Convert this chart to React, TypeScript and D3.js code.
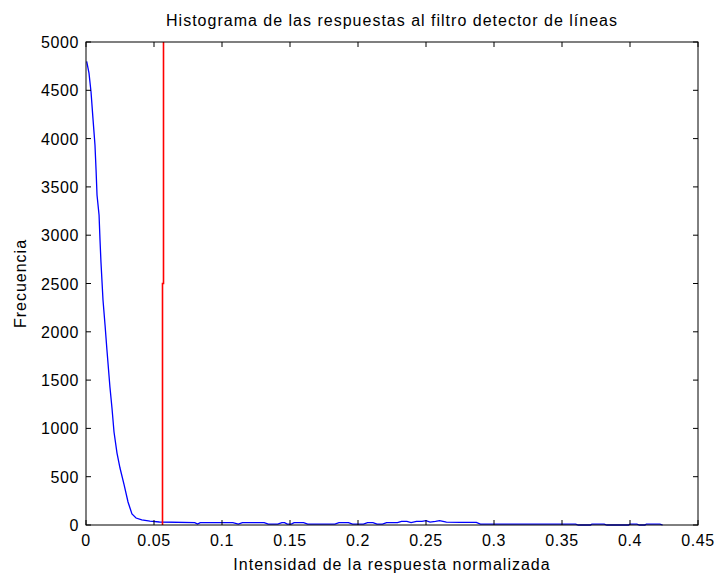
import React from "react";
import * as d3 from "d3";

// intensidad normalizada (eje x) y frecuencia del histograma (eje y)
const intensity = [
  0.0005, 0.0022, 0.0037, 0.0051, 0.0066, 0.0074, 0.0081, 0.0096, 0.0103, 0.011,
  0.0125, 0.014, 0.0154, 0.0176, 0.0191, 0.0206, 0.0228, 0.025, 0.0279, 0.0309,
  0.0338, 0.0368, 0.041, 0.047, 0.054,
  0.080, 0.082, 0.084, 0.108, 0.112, 0.115, 0.131, 0.134, 0.141, 0.144,
  0.146, 0.148, 0.151, 0.153, 0.160, 0.163, 0.183, 0.186, 0.193, 0.196,
  0.204, 0.207, 0.211, 0.214, 0.218, 0.221, 0.229, 0.232, 0.236, 0.239,
  0.243, 0.247, 0.250, 0.253, 0.257, 0.260, 0.265, 0.275, 0.287, 0.290,
  0.360, 0.362, 0.371, 0.372, 0.381, 0.383, 0.399, 0.400, 0.405, 0.407,
  0.411, 0.412, 0.422, 0.424,
];
const frequency = [
  4800, 4678, 4482, 4212, 3933, 3674, 3416, 3209, 2950, 2722,
  2329, 2070, 1811, 1428, 1211, 963, 745, 590, 424, 238,
  114, 72, 52, 41, 31,
  25, 10, 25, 25, 10, 25, 25, 10, 10, 25,
  25, 10, 10, 25, 25, 10, 10, 25, 25, 10,
  10, 25, 25, 10, 10, 25, 25, 38, 38, 25,
  38, 38, 45, 30, 38, 45, 30, 28, 28, 10,
  10, 0, 0, 10, 10, 0, 0, 10, 10, 0,
  0, 10, 10, 0,
];
// umbral elegido (línea roja, dibujada en dos tramos)
const thresholdX = [0.0562, 0.0562, 0.0569, 0.0569];
const thresholdY = [0, 2500, 2500, 5000];

const xTicks = [0, 0.05, 0.1, 0.15, 0.2, 0.25, 0.3, 0.35, 0.4, 0.45];
const yTicks = [0, 500, 1000, 1500, 2000, 2500, 3000, 3500, 4000, 4500, 5000];

const W = 716, H = 576;
const m = { left: 86, right: 18, top: 42, bottom: 51 };
const font = "'Liberation Sans', Arial, sans-serif";
const fs = 16;

export default function App() {
  const x = d3.scaleLinear().domain([0, 0.45]).range([m.left, W - m.right]);
  const y = d3.scaleLinear().domain([0, 5000]).range([H - m.bottom, m.top]);
  const line = d3.line<number>()
    .x((_, i) => x(intensity[i]))
    .y((d) => y(d));
  // la línea roja se ajusta al centro del píxel para que salga nítida
  const redLine = d3.line<number>()
    .x((_, i) => Math.floor(x(thresholdX[i])) + 0.5)
    .y((d) => y(d));
  const x0 = x.range()[0], x1 = x.range()[1];
  const y0 = y.range()[0], y1 = y.range()[1];
  const tl = 5;
  const fmt = (v: number) => (v === 0 ? "0" : String(v));

  return (
    <div style={{ position: "fixed", left: 0, top: 0 }}>
      <svg width={W} height={H} style={{ display: "block", background: "#fff" }}>
        <path d={line(frequency) || ""} fill="none" stroke="#0000ff" strokeWidth={1.3} />
        <path d={redLine(thresholdY) || ""} fill="none" stroke="#ff0000" strokeWidth={1.6} />

        {/* marco y marcas */}
        <rect x={x0} y={y1} width={x1 - x0} height={y0 - y1} fill="none" stroke="#000" strokeWidth={1} />
        {xTicks.map((t) => (
          <g key={"x" + t}>
            <line x1={x(t)} x2={x(t)} y1={y0} y2={y0 - tl} stroke="#000" />
            <line x1={x(t)} x2={x(t)} y1={y1} y2={y1 + tl} stroke="#000" />
            <text x={x(t)} y={y0 + 21} textAnchor="middle" fontFamily={font} fontSize={fs} letterSpacing={0.6}>{fmt(t)}</text>
          </g>
        ))}
        {yTicks.map((t) => (
          <g key={"y" + t}>
            <line x1={x0} x2={x0 + tl} y1={y(t)} y2={y(t)} stroke="#000" />
            <line x1={x1} x2={x1 - tl} y1={y(t)} y2={y(t)} stroke="#000" />
            <text x={x0 - 7} y={y(t) + 6} textAnchor="end" fontFamily={font} fontSize={fs} letterSpacing={0.6}>{t}</text>
          </g>
        ))}

        <text x={(x0 + x1) / 2} y={26} textAnchor="middle" fontFamily={font} fontSize={fs} letterSpacing={1}>
          Histograma de las respuestas al filtro detector de líneas
        </text>
        <text x={(x0 + x1) / 2} y={570} textAnchor="middle" fontFamily={font} fontSize={fs} letterSpacing={1}>
          Intensidad de la respuesta normalizada
        </text>
        <text transform={`translate(26, ${(y0 + y1) / 2}) rotate(-90)`} textAnchor="middle" fontFamily={font} fontSize={fs} letterSpacing={1}>
          Frecuencia
        </text>
      </svg>
    </div>
  );
}
